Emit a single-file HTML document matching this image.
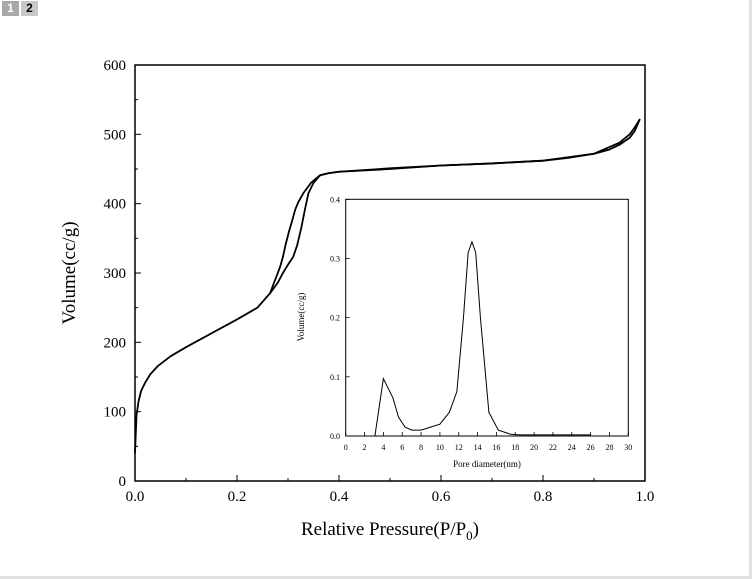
<!DOCTYPE html>
<html><head><meta charset="utf-8"><style>
body{margin:0;background:#fff;width:752px;height:579px;overflow:hidden;font-family:"Liberation Serif",serif}
.tab{position:absolute;top:1px;width:17px;height:15px;font:bold 12px "Liberation Sans",sans-serif;text-align:center;line-height:15px}
</style></head><body>
<div class="tab" style="left:2px;background:#a8a8a8;color:#fff">1</div>
<div class="tab" style="left:21px;background:#c8c8c8;color:#000">2</div>
<div style="position:absolute;left:749px;top:0;width:3px;height:579px;background:#e0e0e0"></div>
<div style="position:absolute;left:0;top:576px;width:752px;height:3px;background:#e0e0e0"></div>
<svg id="c" width="752" height="579" style="position:absolute;left:0;top:0"></svg>
<script>
const xTicks=[0,0.2,0.4,0.6,0.8,1.0];
const yTicks=[0,100,200,300,400,500,600];
const adsP=[0,0.003,0.007,0.012,0.02,0.03,0.045,0.07,0.1,0.15,0.2,0.24,0.265,0.28,0.29,0.3,0.31,0.318,0.326,0.333,0.34,0.35,0.363,0.38,0.4,0.5,0.6,0.7,0.8,0.85,0.9,0.93,0.95,0.97,0.98,0.99];
const adsV=[40,95,115,130,142,154,166,180,193,213,233,250,271,286,300,312,323,340,365,391,415,430,441,444,446,450,455,458,462,466,472,478,485,495,505,522];
const desP=[0.99,0.98,0.97,0.95,0.9,0.8,0.7,0.6,0.5,0.4,0.38,0.363,0.345,0.33,0.32,0.314,0.308,0.302,0.295,0.29,0.285,0.28,0.272,0.265];
const desV=[522,510,500,488,472,462,458,455,451,446,444,441,430,415,402,391,375,360,340,323,310,300,285,271];
const poreD=[3.1,4,5,5.6,6.3,7,8,9,10,11,11.8,12.5,13,13.4,13.8,14.3,15.2,16.2,17.5,18.5,26];
const poreV=[0,0.097,0.065,0.032,0.015,0.01,0.01,0.015,0.02,0.04,0.075,0.2,0.31,0.328,0.31,0.2,0.04,0.01,0.003,0.002,0.002];
const ixTicks=[0,2,4,6,8,10,12,14,16,18,20,22,24,26,28,30];
const iyTicks=[0,0.1,0.2,0.3,0.4];
const svg=document.getElementById('c');const NS='http://www.w3.org/2000/svg';
function mk(t,a,txt){const e=document.createElementNS(NS,t);for(const k in a)e.setAttribute(k,a[k]);if(txt!==undefined)e.textContent=txt;svg.appendChild(e);return e;}
const X=v=>135+v*510, Y=v=>481-v*416/600;
const IX=v=>345.7+v*(282.6/30), IY=v=>436-v*(236.7/0.4);
let e=mk('rect',{x:135,y:65,width:510,height:416,fill:'none',stroke:'#000','stroke-width':1.5});

xTicks.forEach(t=>{mk('line',{x1:X(t),x2:X(t),y1:481,y2:475,stroke:'#000'});
 e=mk('text',{x:X(t),y:501,'text-anchor':'middle','font-size':15},t.toFixed(1));
 });
yTicks.forEach(t=>{mk('line',{x1:135,x2:141,y1:Y(t),y2:Y(t),stroke:'#000'});
 e=mk('text',{x:126,y:Y(t)+5,'text-anchor':'end','font-size':15},t);
 });
for(let i=0;i<xTicks.length-1;i++){const m=(xTicks[i]+xTicks[i+1])/2;mk('line',{x1:X(m),x2:X(m),y1:481,y2:478,stroke:'#000'});}
for(let i=0;i<yTicks.length-1;i++){const m=(yTicks[i]+yTicks[i+1])/2;mk('line',{x1:135,x2:138,y1:Y(m),y2:Y(m),stroke:'#000'});}
e=mk('text',{x:390,y:535,'text-anchor':'middle','font-size':19});e.innerHTML='Relative Pressure(P/P<tspan font-size="13" dy="5">0</tspan><tspan dy="-5">)</tspan>';

e=mk('text',{x:0,y:0,'text-anchor':'middle','font-size':19,transform:'translate(75,273) rotate(-90)'},'Volume(cc/g)');

e=mk('polyline',{points:adsP.map((p,i)=>X(p)+','+Y(adsV[i])).join(' '),fill:'none',stroke:'#000','stroke-width':1.8,'stroke-linejoin':'round'});

e=mk('polyline',{points:desP.map((p,i)=>X(p)+','+Y(desV[i])).join(' '),fill:'none',stroke:'#000','stroke-width':1.8,'stroke-linejoin':'round'});

// inset
e=mk('rect',{x:345.7,y:199.3,width:282.6,height:236.7,fill:'#fff',stroke:'#000','stroke-width':1});

ixTicks.forEach(t=>{mk('line',{x1:IX(t),x2:IX(t),y1:436,y2:432,stroke:'#000','stroke-width':0.8});
 e=mk('text',{x:IX(t),y:450,'text-anchor':'middle','font-size':8},t);
 });
iyTicks.forEach(t=>{mk('line',{x1:345.7,x2:349.7,y1:IY(t),y2:IY(t),stroke:'#000','stroke-width':0.8});
 e=mk('text',{x:340,y:IY(t)+3,'text-anchor':'end','font-size':8},t.toFixed(1));
 });
e=mk('text',{x:487,y:467,'text-anchor':'middle','font-size':9},'Pore diameter(nm)');

e=mk('text',{x:0,y:0,'text-anchor':'middle','font-size':9,transform:'translate(304,317) rotate(-90)'},'Volume(cc/g)');

e=mk('polyline',{points:poreD.map((d,i)=>IX(d)+','+IY(poreV[i])).join(' '),fill:'none',stroke:'#000','stroke-width':1});

</script>
</body></html>
